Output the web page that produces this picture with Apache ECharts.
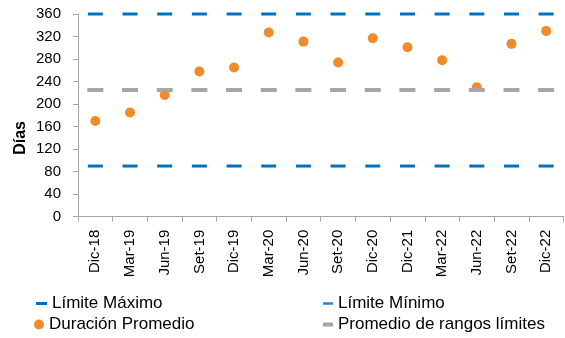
<!DOCTYPE html>
<html>
<head>
<meta charset="utf-8">
<script src="https://cdn.jsdelivr.net/npm/echarts@6/dist/echarts.min.js"></script>
<style>
html,body{margin:0;padding:0;background:#fff;}
#chart{width:565px;height:338px;}
</style>
</head>
<body>
<div id="chart"></div>
<script>
var categories = ['Dic-18','Mar-19','Jun-19','Set-19','Dic-19','Mar-20','Jun-20','Set-20','Dic-20','Dic-21','Mar-22','Jun-22','Set-22','Dic-22'];
var duracionPromedio = [170, 185, 216, 258, 265, 327, 311, 274, 317, 301, 278, 230, 307, 330];
var limiteMaximo = [360, 360, 360, 360, 360, 360, 360, 360, 360, 360, 360, 360, 360, 360];
var limiteMinimo = [90, 90, 90, 90, 90, 90, 90, 90, 90, 90, 90, 90, 90, 90];
var promedioRangos = [225, 225, 225, 225, 225, 225, 225, 225, 225, 225, 225, 225, 225, 225];
var yTicks = {min: 0, max: 360, interval: 40};

var FONT = '"Liberation Sans", Arial, sans-serif';
var BLUE = '#0070C0', ORANGE = '#F08A2A', GRAY = '#A6A6A6';

var chart = echarts.init(document.getElementById('chart'), null, {renderer: 'canvas'});

function legendItem(name, left, top, icon, w, h, color) {
  return {
    data: [{name: name, icon: icon, itemStyle: {color: color}}],
    left: left, top: top, orient: 'horizontal',
    itemWidth: w, itemHeight: h, padding: 0,
    selectedMode: false,
    textStyle: {fontFamily: FONT, fontSize: 17, color: '#000'}
  };
}

chart.setOption({
  animation: false,
  grid: {left: 78, right: 1.5, top: 14, bottom: 121.3, containLabel: false},
  legend: [
    legendItem('Límite Máximo', 36, 295, 'rect', 11, 3, BLUE),
    legendItem('Duración Promedio', 34, 316, 'circle', 10, 10, ORANGE),
    legendItem('Límite Mínimo', 323, 295, 'rect', 10, 2.5, '#2A86D0'),
    legendItem('Promedio de rangos límites', 323, 316, 'rect', 10, 4, GRAY)
  ],
  graphic: [{
    type: 'text', left: 13, top: 121, rotation: Math.PI / 2,
    style: {text: 'Días', fontFamily: FONT, fontSize: 16, fontWeight: 'bold', fill: '#000'}
  }],
  xAxis: {
    type: 'category', data: categories, boundaryGap: true,
    axisLine: {show: true, lineStyle: {color: '#A6A6A6', width: 1}},
    axisTick: {show: true, alignWithLabel: false, length: 5, lineStyle: {color: '#A6A6A6'}},
    axisLabel: {rotate: 90, margin: 13, fontFamily: FONT, fontSize: 15, color: '#000', interval: 0},
    splitLine: {show: false}
  },
  yAxis: {
    type: 'value', min: yTicks.min, max: yTicks.max, interval: yTicks.interval,
    axisLine: {show: true, lineStyle: {color: '#A6A6A6', width: 1}},
    axisTick: {show: true, length: 5, lineStyle: {color: '#A6A6A6'}},
    axisLabel: {margin: 17, fontFamily: FONT, fontSize: 15, color: '#000'},
    splitLine: {show: false}
  },
  series: [
    {name: 'Duración Promedio', type: 'scatter', data: duracionPromedio, symbol: 'circle', symbolSize: 10,
     itemStyle: {color: ORANGE, opacity: 1}, z: 2},
    {name: 'Límite Máximo', type: 'scatter', data: limiteMaximo, symbol: 'rect', symbolSize: [15, 3],
     itemStyle: {color: BLUE, opacity: 1}, z: 3},
    {name: 'Límite Mínimo', type: 'scatter', data: limiteMinimo, symbol: 'rect', symbolSize: [15, 3],
     itemStyle: {color: BLUE, opacity: 1}, z: 3},
    {name: 'Promedio de rangos límites', type: 'scatter', data: promedioRangos, symbol: 'rect', symbolSize: [16, 4],
     itemStyle: {color: GRAY, opacity: 1}, z: 3}
  ]
});
</script>
</body>
</html>
